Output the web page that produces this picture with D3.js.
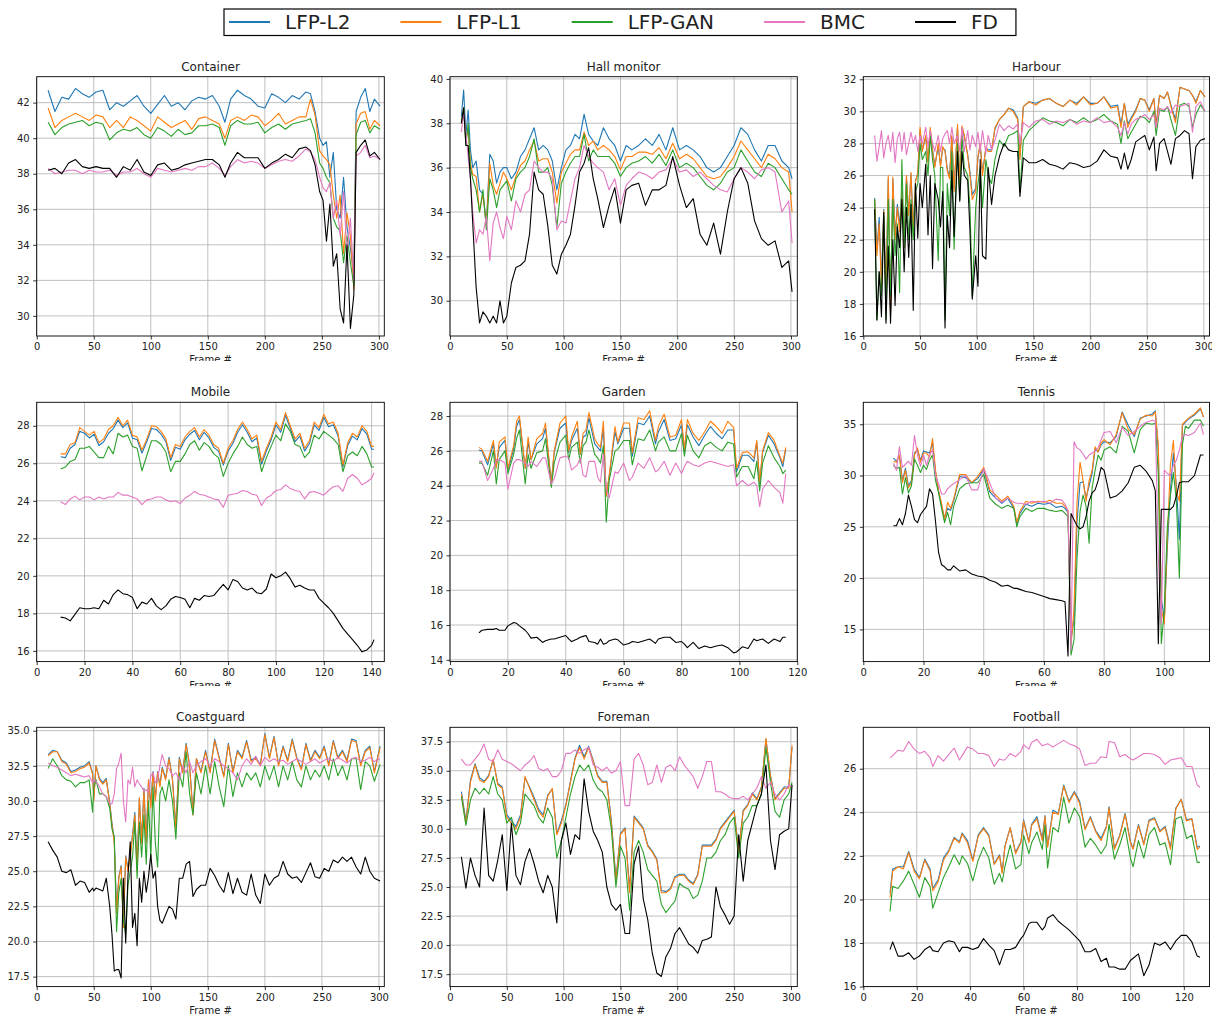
<!DOCTYPE html>
<html>
<head>
<meta charset="utf-8">
<script src="https://cdn.jsdelivr.net/npm/d3@7"></script>
<style>
  body { margin: 0; background: #fff; }
  svg { display: block; }
  text { font-family: "DejaVu Sans", sans-serif; fill: #222; }
</style>
</head>
<body>
<svg id="chart" width="1212" height="1017"></svg>
<script>
const seriesNames = ["LFP-L2", "LFP-L1", "LFP-GAN", "BMC", "FD"];
const seriesColors = ["#1f77b4", "#ff7f0e", "#2ca02c", "#e377c2", "#000000"];

// ---- Container ----
const containerFrames = [10,16,22,28,34,40,46,52,58,64,70,76,82,88,94,100,106,112,118,124,130,136,142,148,154,160,165,170,176,182,188,194,200,206,212,218,224,230,236,240,244,248,251,254,257,260,263,266,269,272,275,278,280,284,288,292,296,301];
const containerL2 = [42.7,41.5,42.3,42.2,42.8,42.5,42.3,42.6,42.7,41.6,42.0,41.8,42.1,42.4,41.8,41.4,41.9,42.4,41.8,42.0,41.6,42.1,42.3,42.2,42.4,41.8,40.9,42.2,42.7,42.4,42.2,41.8,41.7,42.5,42.3,42.0,42.4,42.2,42.6,42.5,41.5,40.0,39.6,39.8,37.8,39.2,36.0,35.5,37.8,35.0,33.8,32.3,41.5,42.3,42.8,41.5,42.2,41.8];
const containerL1 = [41.7,40.6,41.0,41.2,41.4,41.2,41.0,41.3,41.2,40.6,41.0,40.6,41.2,41.0,40.7,40.4,41.2,40.9,40.6,40.8,41.0,40.5,41.1,41.2,41.0,40.8,40.0,41.0,41.2,41.0,41.3,41.2,40.7,41.0,41.4,40.8,41.0,41.2,41.2,42.2,41.3,39.3,39.0,38.8,38.5,36.8,35.5,36.8,33.5,35.8,34.5,31.5,40.8,41.4,41.5,40.5,41.0,40.7];
const containerGAN = [40.9,40.2,40.6,40.8,40.9,41.0,40.7,40.9,40.8,39.9,40.3,40.5,40.4,40.6,40.2,40.0,40.6,40.4,40.1,40.5,40.2,40.3,40.7,40.7,40.8,40.6,39.6,40.7,41.0,40.8,40.8,40.9,40.3,40.6,40.8,40.5,40.8,40.9,41.0,41.1,40.3,38.6,38.3,37.8,37.5,35.5,35.0,34.8,33.0,34.5,33.0,31.7,40.2,40.9,41.0,40.3,40.7,40.5];
const containerBMC = [38.3,38.0,38.1,38.2,38.2,38.0,38.2,38.1,38.1,38.2,37.9,38.1,38.1,38.3,38.0,37.8,38.3,38.2,38.1,38.2,38.3,38.2,38.4,38.4,38.6,38.3,37.9,38.4,38.8,38.6,38.7,38.6,38.3,38.5,38.7,38.8,38.7,39.0,39.4,39.2,38.8,37.8,37.2,37.0,37.5,35.5,36.5,34.5,37.0,33.5,35.5,32.0,39.0,39.2,39.6,38.9,39.0,38.8];
const containerFD = [38.2,38.3,38.0,38.6,38.8,38.4,38.3,38.4,38.3,38.3,37.8,38.4,38.2,38.8,38.1,37.9,38.5,38.6,38.2,38.3,38.5,38.6,38.7,38.8,38.8,38.5,37.8,38.6,39.2,38.9,38.9,38.9,38.3,38.6,38.8,39.1,38.9,39.4,39.5,39.3,38.5,37.0,36.5,34.2,36.3,32.8,33.5,30.4,29.6,34.0,29.3,31.2,39.2,39.6,39.9,39.0,39.2,38.8];

// ---- Hall monitor ----
const hallFrames = [10,12,14,16,18,20,23,26,29,32,35,38,41,44,47,50,54,58,62,66,70,74,78,82,86,90,94,98,102,106,110,114,118,122,126,130,135,140,145,150,155,160,166,172,178,184,190,196,202,208,214,220,226,232,238,244,250,256,262,268,274,280,286,292,298,301];
const hallL2 = [38.3,39.5,37.5,38.6,36.8,36.0,36.3,35.0,34.8,33.5,36.6,36.3,35.3,35.8,36.0,36.0,35.5,35.8,36.5,36.8,37.3,37.8,36.8,37.0,36.8,36.3,35.0,36.0,36.8,37.0,37.5,37.3,38.4,37.5,37.2,37.0,37.8,37.3,37.0,36.3,37.0,36.8,37.0,37.3,37.0,37.5,36.8,37.8,36.8,37.0,36.8,36.5,36.0,35.8,36.0,36.5,37.0,37.8,37.5,36.8,36.3,37.0,37.0,36.3,36.0,35.5];
const hallL1 = [38.0,38.7,37.3,37.7,36.2,35.7,35.6,34.0,34.8,33.4,36.2,35.2,34.8,35.3,35.8,35.5,35.0,35.6,36.1,36.3,36.8,37.2,36.3,36.4,36.4,35.8,34.4,35.8,36.2,36.6,36.8,36.8,37.6,37.0,37.2,36.8,37.0,36.8,36.5,35.9,36.5,36.5,36.7,36.7,36.6,36.9,36.4,37.1,36.4,36.6,36.4,36.0,35.6,35.5,35.6,36.0,36.5,37.2,36.8,36.4,36.0,36.6,36.4,36.0,35.8,34.0];
const hallGAN = [38.0,38.7,37.0,38.0,36.0,35.5,35.0,34.0,35.0,33.2,35.5,35.0,34.2,35.0,35.2,35.4,34.5,35.5,35.8,36.0,36.5,37.3,35.8,35.8,36.0,35.2,33.3,35.3,35.8,36.2,36.5,36.5,37.5,36.3,36.8,36.5,36.5,36.5,36.2,35.6,36.0,36.2,36.3,36.5,36.2,36.6,36.1,36.8,36.0,36.2,36.0,35.6,35.2,35.0,35.3,35.8,36.0,36.8,36.3,35.8,35.6,36.2,36.0,35.5,35.0,34.8];
const hallBMC = [37.6,38.5,37.5,36.5,35.5,34.0,32.6,33.2,33.0,33.8,31.8,33.5,34.0,33.3,32.8,33.8,33.2,34.5,34.0,34.8,35.0,36.3,36.0,35.8,35.8,35.5,33.2,33.6,33.5,34.5,35.5,36.0,37.0,36.5,36.2,36.0,35.8,35.0,35.5,34.3,35.2,35.5,35.8,35.7,35.5,35.8,35.9,36.4,35.8,35.9,35.6,35.8,35.5,35.2,35.0,34.9,35.5,36.0,35.8,35.5,35.9,36.0,35.8,34.0,34.5,32.6];
const hallFD = [38.0,38.7,37.0,37.0,35.5,33.5,30.6,29.0,29.5,29.3,29.0,29.3,29.0,30.0,29.0,29.3,30.8,31.5,31.6,31.8,33.0,35.8,35.0,34.8,33.4,31.6,31.2,32.1,32.5,33.0,34.3,35.8,36.2,36.9,35.5,34.6,33.3,34.3,35.1,33.5,35.0,35.2,35.3,34.3,35.0,35.0,35.2,36.5,35.2,34.2,34.6,33.0,32.5,33.5,32.1,34.0,35.5,36.0,35.3,33.6,32.8,32.5,32.7,31.5,31.8,30.4];

// ---- Harbour ----
const harbourFrames = [10,12,14,16,18,20,22,24,26,28,30,32,34,36,38,40,42,44,46,48,50,52,55,57,59,61,63,66,68,70,72,74,76,78,80,83,85,87,89,92,94,96,99,101,103,105,108,110,113,116,120,124,128,132,136,138,141,146,152,158,164,170,176,182,188,194,200,206,212,218,224,227,230,233,236,240,244,248,252,256,258,261,265,268,271,275,279,283,287,290,293,297,301];
const harbourL2 = [24.6,21.3,23.4,19.4,23.9,18.8,25.8,17.5,25.8,22.3,24.2,22.9,25.1,21.8,25.9,23.6,26.1,22.8,25.7,26.1,28.8,27.6,28.4,26.9,28.8,27.6,26.6,27.8,26.7,27.7,27.6,26.4,25.9,28.4,25.2,29.0,25.7,29.0,28.4,27.3,26.2,24.8,25.2,27.1,27.9,26.2,27.7,27.6,27.6,28.9,29.5,29.8,30.2,30.1,29.6,27.2,30.3,30.6,30.5,30.7,30.8,30.5,30.3,30.7,30.5,30.9,30.5,30.5,30.9,30.3,30.4,29.2,30.5,29.2,29.6,30.1,30.8,30.7,30.1,30.8,29.2,31.0,30.8,31.2,30.4,29.5,31.5,31.4,31.3,31.0,30.6,31.3,30.9];
const harbourL1 = [24.5,21.0,23.0,19.0,23.8,18.5,26.0,17.2,25.9,22.0,24.0,22.5,25.0,21.5,26.0,23.5,26.2,22.5,25.6,26.2,29.0,27.5,28.5,26.8,29.0,27.5,26.5,28.0,26.5,27.8,27.5,26.3,25.8,28.5,25.0,29.2,25.5,29.1,28.5,27.2,26.0,24.5,25.0,27.2,28.0,26.0,27.8,27.5,27.5,29.0,29.5,29.8,30.2,30.0,29.5,27.0,30.3,30.6,30.4,30.7,30.8,30.5,30.3,30.7,30.4,30.9,30.4,30.5,30.9,30.2,30.3,29.0,30.5,29.0,29.5,30.0,30.8,30.7,30.0,30.8,29.0,31.0,30.8,31.2,30.3,29.3,31.5,31.4,31.3,31.0,30.5,31.3,30.9];
const harbourGAN = [24.5,17.0,20.0,18.5,23.5,17.0,24.5,18.5,24.5,21.0,23.0,18.7,27.0,21.5,25.5,22.0,24.5,22.0,25.0,25.5,28.0,27.0,27.5,26.0,28.5,27.0,26.0,20.7,26.5,26.5,17.0,25.5,23.5,27.5,21.4,28.0,24.5,28.5,26.5,26.0,24.0,18.5,24.0,25.5,26.5,24.0,27.0,26.0,25.5,27.0,28.2,27.8,28.5,28.6,28.8,25.0,28.2,28.8,29.2,29.6,29.4,29.3,29.1,29.5,29.3,29.6,29.3,29.5,29.8,29.4,29.2,28.0,29.4,28.3,28.7,29.2,29.7,29.6,29.3,30.0,28.5,30.1,30.0,30.3,29.5,28.5,30.4,30.5,30.3,29.0,29.8,30.4,30.0];
const harbourBMC = [28.5,26.9,27.8,28.8,27.1,28.0,28.5,27.5,28.7,26.8,28.3,28.7,27.5,28.7,27.3,28.0,28.7,28.0,28.5,27.5,28.5,28.0,29.0,27.8,28.8,28.0,27.5,28.5,27.5,28.3,28.6,28.8,28.0,29.0,28.0,28.5,27.5,29.0,27.5,28.8,27.6,28.5,27.8,28.7,27.5,28.8,27.4,28.5,27.6,28.2,29.2,28.8,29.1,28.9,29.2,28.0,29.3,29.0,29.4,29.5,29.2,29.4,29.3,29.5,29.2,29.4,29.3,29.6,29.3,29.4,29.0,28.5,29.3,28.6,29.2,29.5,29.6,29.8,29.5,29.8,29.0,30.2,30.1,30.3,29.9,30.4,30.3,30.4,30.5,28.7,30.3,30.6,30.0];
const harbourFD = [23.9,17.0,20.0,17.2,23.7,16.8,21.6,16.8,22.0,17.9,22.8,21.5,24.5,20.0,24.0,20.9,24.2,17.6,25.5,22.1,25.5,24.0,26.7,22.3,26.0,20.2,25.5,24.5,22.8,25.0,16.5,23.5,21.5,26.3,22.2,27.5,24.4,27.5,26.0,25.7,22.5,18.3,21.0,19.1,27.0,21.0,20.8,26.5,24.2,26.0,27.2,28.0,27.6,27.5,27.5,24.7,27.1,26.8,26.8,27.0,26.7,26.6,26.4,26.8,26.7,26.5,26.6,26.9,27.6,27.2,27.1,26.4,27.4,26.4,27.0,28.1,28.3,28.5,27.6,28.4,26.3,28.0,28.3,27.5,26.7,28.3,28.5,28.8,28.6,25.8,27.8,28.2,28.3];

// ---- Mobile ----
const mobileFrames = [10,12,14,16,18,20,22,24,26,28,30,32,34,36,38,40,42,44,46,48,50,52,54,56,58,60,62,64,66,68,70,72,74,76,78,80,82,84,86,88,90,92,94,96,98,100,102,104,106,108,110,112,114,116,118,120,122,124,126,128,130,132,134,136,138,140,141];
const mobileL2 = [26.35,26.3,26.8,27.0,27.7,27.6,27.35,27.55,26.95,27.15,27.6,27.85,28.3,27.9,28.15,27.35,27.25,26.55,27.15,27.85,27.8,27.55,27.15,26.15,26.85,26.75,27.25,27.55,27.75,27.25,27.65,27.35,26.85,26.65,25.9,26.65,27.05,27.65,28.05,27.65,27.15,27.35,25.95,26.65,27.25,28.05,27.65,28.55,27.85,27.15,27.45,26.65,27.05,28.05,27.75,28.45,27.95,28.05,27.45,25.8,26.95,27.45,27.25,27.85,27.55,26.75,26.75];
const mobileL1 = [26.5,26.5,27.0,27.1,27.9,27.7,27.5,27.7,27.1,27.3,27.8,28.0,28.45,28.0,28.3,27.5,27.4,26.7,27.3,28.0,27.95,27.7,27.3,26.3,27.0,26.9,27.4,27.7,27.9,27.4,27.8,27.5,27.0,26.8,26.0,26.8,27.2,27.8,28.2,27.8,27.3,27.5,26.1,26.8,27.4,28.2,27.8,28.7,28.0,27.3,27.6,26.8,27.2,28.2,27.9,28.6,28.1,28.2,27.6,25.9,27.1,27.6,27.4,28.0,27.7,26.9,26.9];
const mobileGAN = [25.7,25.8,26.1,26.2,26.8,26.8,26.9,26.6,26.3,26.3,26.9,26.5,27.6,27.4,27.5,26.9,26.8,25.6,26.4,27.2,27.2,27.0,26.6,25.55,26.1,26.1,26.5,27.0,27.2,26.7,27.1,26.9,26.5,26.3,25.3,26.0,26.5,26.9,27.4,27.0,26.8,26.9,25.55,26.3,26.9,27.5,27.2,28.1,27.7,27.0,26.9,26.3,26.6,27.5,27.3,27.7,27.5,27.3,27.0,25.55,26.4,26.6,26.4,26.9,26.5,25.8,25.8];
const mobileBMC = [23.95,23.8,24.1,24.25,24.05,24.2,24.2,24.05,24.2,24.1,24.2,24.2,24.45,24.3,24.3,24.2,24.1,23.8,24.05,24.1,24.2,24.2,24.05,23.95,24.0,23.85,24.15,24.3,24.5,24.35,24.3,24.2,24.1,24.05,23.65,24.3,24.35,24.4,24.55,24.5,24.35,24.3,23.75,24.15,24.3,24.55,24.6,24.85,24.65,24.55,24.5,24.1,24.45,24.5,24.4,24.3,24.55,24.75,24.8,24.5,25.2,25.4,25.2,24.85,25.0,25.2,25.5];
const mobileFD = [17.8,17.75,17.6,17.95,18.3,18.25,18.25,18.3,18.25,18.7,18.5,19.0,19.25,19.05,19.0,18.85,18.25,18.6,18.5,18.8,18.4,18.2,18.4,18.75,18.9,18.85,18.75,18.3,18.8,18.7,18.95,18.9,18.95,19.25,19.55,19.25,19.8,19.7,19.35,19.25,19.35,19.1,19.05,19.3,20.1,19.9,20.0,20.2,19.85,19.4,19.5,19.35,19.25,19.25,18.8,18.55,18.3,18.0,17.6,17.2,16.9,16.6,16.3,15.95,16.05,16.3,16.6];

// ---- Garden ----
const gardenFrames = [10,11,13,15,16,17,19,20,22,23,24,26,27,28,30,32,33,35,36,38,40,41,42,44,45,46,47,48,50,51,52,53,54,55,57,58,60,62,63,65,67,69,71,72,74,76,78,80,81,82,84,86,88,90,92,94,96,98,99,101,103,105,106,107,108,110,112,114,115,116];
const gardenL2 = [26.05,26.0,25.2,26.4,25.1,26.2,26.6,24.9,26.1,27.4,27.8,25.0,26.5,25.5,26.4,26.7,27.3,24.2,25.9,27.3,27.6,25.9,26.6,27.3,25.8,26.8,26.9,27.9,26.4,26.2,26.0,27.3,23.4,24.5,27.1,26.4,27.3,27.3,25.7,27.6,27.5,28.0,26.4,27.1,27.8,26.6,26.7,27.5,26.0,27.5,26.8,26.3,26.9,27.4,27.0,26.7,27.2,27.2,24.8,25.75,25.75,25.4,26.5,24.1,25.9,26.9,26.4,25.6,25.1,26.1];
const gardenL1 = [26.2,26.1,25.4,26.6,25.0,26.5,26.8,25.0,26.3,27.7,28.0,25.0,26.8,25.5,26.7,27.0,27.6,24.1,26.0,27.6,28.0,26.0,26.8,27.7,25.8,27.0,27.2,28.2,26.7,26.4,26.2,27.7,23.4,24.6,27.4,26.5,27.6,27.6,25.9,27.9,27.8,28.3,26.6,27.4,28.1,26.8,26.9,27.8,26.1,27.8,27.0,26.6,27.1,27.7,27.4,27.0,27.7,27.35,25.0,25.9,25.95,25.6,26.6,24.2,26.0,27.05,26.6,25.7,25.3,26.2];
const gardenGAN = [25.3,25.3,24.6,26.0,24.1,25.5,26.0,24.7,25.8,26.7,27.2,24.1,25.8,25.0,25.9,26.0,26.7,23.9,25.3,26.5,26.9,25.5,26.2,26.5,25.3,26.3,26.5,27.2,25.8,25.6,25.3,26.3,21.9,24.3,26.0,26.1,26.6,26.6,25.2,26.7,26.6,27.2,26.0,26.5,26.8,26.0,26.0,27.0,25.7,26.9,26.0,25.6,26.3,26.5,26.2,26.0,26.5,26.4,24.5,25.1,25.1,24.4,25.4,23.7,25.3,26.3,25.6,25.1,24.7,24.9];
const gardenBMC = [25.4,25.4,24.3,25.0,25.5,25.5,25.3,23.8,25.3,25.5,25.5,25.3,25.1,25.4,25.1,25.6,25.6,24.1,24.4,25.6,25.7,25.6,24.9,25.2,25.6,24.6,24.5,25.4,25.4,24.5,24.2,25.8,23.8,23.3,24.8,24.7,25.3,24.3,24.5,25.3,25.0,25.6,24.8,24.9,25.4,24.6,25.3,24.7,25.1,25.4,25.2,25.1,25.3,25.4,25.3,25.2,25.1,25.2,24.0,24.3,24.0,24.2,24.0,22.8,23.8,24.3,23.9,23.6,23.0,24.7];
const gardenFD = [15.55,15.7,15.75,15.75,15.8,15.7,15.7,15.95,16.15,16.1,15.95,15.7,15.5,15.25,15.3,15.0,15.1,15.2,15.2,15.3,15.4,15.2,15.05,15.2,15.3,15.35,15.4,15.05,15.0,14.9,15.2,14.9,14.95,15.1,15.2,15.15,14.85,14.95,15.05,15.0,15.1,15.2,14.95,15.2,15.3,15.3,15.0,15.05,14.9,14.7,15.0,14.65,14.8,14.7,14.8,14.85,14.7,14.4,14.45,14.75,14.65,15.2,15.1,15.15,15.2,14.95,15.2,15.05,15.3,15.3];

// ---- Tennis ----
const tennisFrames = [10,11,12,13,14,15,16,17,18,19,20,21,22,23,24,25,26,27,28,29,30,32,34,36,38,40,42,44,46,48,50,51,52,54,56,58,60,62,64,66,67,68,69,70,71,72,73,74,75,76,77,78,79,80,82,84,86,88,90,92,94,96,97,98,99,100,101,102,103,104,105,106,107,108,110,112,113];
const tennisL2 = [31.7,31.4,31.9,29.5,30.7,29.0,29.5,32.2,32.5,31.5,32.4,32.3,32.2,33.2,30.3,28.5,27.0,25.9,26.8,26.6,27.5,29.9,29.8,29.3,29.7,30.6,28.4,27.8,27.3,27.8,26.8,25.3,26.3,27.2,27.0,27.3,27.2,27.3,26.9,27.0,26.8,26.4,14.0,16.0,25.5,29.3,29.4,27.8,29.0,30.2,32.6,32.3,33.0,33.3,33.2,33.8,36.2,34.9,33.8,35.6,35.8,36.0,36.3,32.5,18.0,16.0,23.0,28.5,32.2,29.0,23.8,34.9,35.2,35.5,35.9,36.5,35.7];
const tennisL1 = [31.4,31.3,32.0,29.3,30.5,28.8,29.3,32.0,32.7,31.3,32.2,32.2,31.8,33.6,30.5,28.5,27.3,25.7,27.4,26.8,27.7,30.1,30.1,29.3,29.9,30.8,28.6,28.1,27.5,28.0,27.0,25.4,26.5,27.5,27.3,27.5,27.4,27.6,27.3,27.3,27.0,26.6,13.5,17.0,27.5,31.3,29.5,27.5,29.5,30.5,32.8,32.3,33.2,33.5,33.0,34.0,36.1,34.5,34.0,35.5,35.9,35.8,36.2,33.0,17.0,15.5,24.0,31.0,33.4,28.5,27.5,35.0,35.3,35.6,36.0,36.6,35.7];
const tennisGAN = [31.0,30.7,30.8,28.2,29.8,28.3,29.0,31.6,31.0,30.3,31.0,30.6,31.5,32.0,29.5,28.3,26.8,25.4,26.4,25.2,27.0,28.7,29.2,29.3,29.3,30.1,27.8,27.2,26.8,27.1,26.8,25.0,26.0,26.8,26.5,26.8,26.8,26.6,26.5,26.6,26.3,26.0,12.5,14.0,22.0,26.5,28.1,27.0,23.4,28.8,30.5,32.0,31.5,32.5,32.8,32.2,34.8,34.3,32.2,34.5,35.1,35.0,35.1,30.0,13.6,17.0,25.0,28.0,30.3,27.5,20.0,33.0,34.8,34.6,35.4,35.4,34.8];
const tennisBMC = [31.2,30.5,32.8,30.8,31.1,31.4,31.0,33.9,32.0,30.9,32.0,31.0,32.0,32.5,30.0,29.2,28.2,28.2,28.7,29.0,29.2,29.6,30.0,28.6,28.6,30.7,29.3,27.8,27.4,27.8,27.4,27.3,27.3,27.2,27.5,27.4,27.5,27.3,27.7,27.6,27.2,26.6,13.0,33.3,32.7,32.5,32.1,31.6,32.0,32.2,32.4,32.7,33.5,34.2,34.3,33.2,34.7,33.9,34.3,34.8,35.2,35.4,35.3,22.0,15.5,30.5,30.2,30.0,31.0,31.5,32.5,33.8,34.0,33.9,34.2,35.1,34.0];
const tennisFD = [25.1,25.1,25.8,25.2,26.3,28.1,27.0,25.7,25.4,26.2,26.6,27.0,28.7,28.2,25.5,22.5,21.3,21.1,20.8,20.8,21.2,20.7,20.8,20.4,20.2,20.1,19.8,19.6,19.2,19.3,19.0,19.0,18.9,18.7,18.6,18.4,18.2,18.0,17.9,17.8,17.7,12.4,26.3,25.7,25.1,24.8,25.0,26.0,27.5,28.3,28.6,29.5,30.8,30.5,27.8,28.0,28.5,29.3,30.8,31.0,30.4,29.5,28.5,13.6,26.7,26.7,26.7,26.7,27.0,28.0,29.3,29.4,29.4,29.4,30.0,32.0,32.0];

// ---- Coastguard ----
const coastFrames = [10,14,18,22,26,30,34,38,42,46,49,50,52,55,58,61,64,66,68,70,72,74,76,78,80,82,84,86,88,90,92,94,96,98,100,102,104,106,108,110,113,116,119,122,125,128,131,134,137,140,144,148,152,156,160,164,168,172,176,180,184,188,192,196,200,204,208,212,216,220,224,228,232,236,240,244,248,252,256,260,264,268,272,276,280,284,288,292,296,301];
const coastL2 = [33.3,33.6,33.5,32.9,32.7,32.1,32.2,32.4,32.5,32.8,32.0,30.2,32.5,31.6,31.3,31.6,29.9,28.4,27.2,22.3,24.6,25.4,21.3,26.1,25.2,26.2,27.6,29.2,25.2,30.2,27.2,30.9,27.2,31.5,29.7,32.1,30.2,32.1,31.1,32.4,31.6,33.1,31.6,28.2,33.1,32.1,34.1,32.6,29.2,33.0,32.1,33.6,32.1,34.4,33.1,31.8,34.1,32.1,33.6,33.1,34.3,32.9,33.1,32.6,34.8,33.1,34.6,32.6,33.9,32.9,34.4,33.1,32.3,34.1,32.9,33.6,33.1,33.9,32.6,34.3,33.1,33.6,32.9,34.4,34.3,32.6,33.6,33.9,32.1,33.9];
const coastL1 = [33.2,33.5,33.5,32.8,32.6,32.0,32.1,32.3,32.4,32.7,31.9,30.0,32.5,31.5,31.2,31.5,29.8,28.3,27.0,22.0,24.5,25.3,21.0,26.0,25.0,26.0,27.5,29.0,25.0,30.2,27.0,30.8,27.0,31.5,29.5,32.0,30.0,32.0,31.0,32.3,31.5,33.0,31.5,28.0,33.0,32.0,34.0,32.5,29.0,33.0,32.0,33.5,32.0,34.3,33.0,31.7,34.0,32.0,33.5,33.0,34.2,32.8,33.0,32.5,34.7,33.0,34.5,32.5,33.8,32.8,34.3,33.0,32.2,34.0,32.8,33.5,33.0,33.8,32.5,34.2,33.0,33.5,32.8,34.3,34.2,32.5,33.5,33.8,32.0,33.8];
const coastGAN = [32.3,33.0,32.5,31.8,31.5,31.4,31.0,31.3,31.3,31.5,29.2,31.0,31.5,30.5,30.5,30.3,29.5,28.0,27.5,20.7,23.5,24.5,21.5,20.5,24.0,25.0,26.0,28.5,24.5,28.5,26.0,29.0,25.5,30.0,26.0,31.0,27.0,25.3,30.5,31.0,30.0,31.5,30.0,27.3,32.0,31.0,33.5,30.5,29.0,32.0,30.5,32.5,30.5,32.8,31.0,29.6,32.5,30.3,32.0,31.0,32.0,31.5,32.0,31.0,32.5,31.5,32.5,31.0,32.5,31.5,32.8,31.5,31.0,32.5,31.5,32.2,31.7,32.5,31.5,33.0,31.8,32.5,31.5,33.0,33.0,30.8,32.8,32.5,31.4,32.6];
const coastBMC = [32.7,32.5,32.4,32.2,32.0,31.8,31.9,31.8,31.7,31.8,31.3,31.5,31.4,31.0,30.5,30.3,29.8,29.8,30.5,32.3,32.7,33.4,30.0,28.5,31.5,31.2,32.4,31.0,31.5,31.2,31.0,30.7,30.8,30.6,31.8,32.0,31.3,31.5,32.5,33.3,32.5,32.3,31.8,32.0,31.5,32.5,32.0,32.8,32.0,32.5,32.8,33.0,32.5,33.0,32.8,32.5,32.3,32.0,31.5,32.5,33.0,32.6,33.2,32.5,33.1,32.8,33.0,32.8,32.9,32.6,32.8,33.0,32.8,32.6,32.8,33.0,32.7,32.9,33.0,32.8,33.1,32.9,32.7,33.0,33.1,32.8,32.9,33.1,32.8,33.0];
const coastFD = [27.1,26.5,26.0,25.0,24.9,25.1,24.0,24.3,24.2,23.5,23.8,23.6,23.8,23.7,23.6,24.5,22.5,20.5,17.9,18.0,18.0,17.4,24.5,19.9,24.7,27.1,21.0,22.0,19.7,24.5,22.8,25.0,23.5,24.6,26.2,24.5,25.0,22.5,21.5,21.3,21.9,22.5,22.3,21.6,24.5,24.5,25.5,25.7,23.2,23.7,24.0,24.0,25.2,24.7,24.0,23.5,24.9,23.4,24.5,23.5,23.3,24.8,23.3,22.7,24.8,24.0,24.5,24.7,25.7,24.8,24.5,24.6,24.2,24.9,25.6,24.6,24.5,25.2,25.0,25.8,25.6,26.0,25.7,26.0,25.3,24.8,26.0,25.0,24.5,24.3];

// ---- Foreman ----
const foremanFrames = [10,14,18,22,26,30,34,38,42,46,50,54,58,62,66,70,74,78,82,86,90,94,98,102,106,110,114,118,122,126,130,134,138,142,146,150,154,158,162,166,170,174,178,182,186,190,194,198,202,206,210,214,218,222,226,230,234,238,242,246,250,254,258,262,266,270,274,278,282,286,290,294,298,301];
const foremanL2 = [33.2,30.7,34.2,35.6,34.4,34.1,34.6,35.9,33.9,33.6,31.2,30.7,30.2,31.2,34.4,33.6,32.7,31.7,31.2,32.9,33.4,29.6,30.7,32.1,34.1,36.1,37.2,36.2,37.1,35.9,34.6,34.1,34.1,30.7,25.7,29.6,30.1,24.8,31.1,30.6,30.1,28.6,28.1,27.4,24.7,24.6,24.9,25.9,26.1,26.1,25.6,25.3,26.1,28.6,28.6,28.6,29.1,30.1,30.6,31.1,31.6,28.2,31.6,32.1,33.1,32.6,33.6,37.7,34.6,32.6,33.1,33.6,33.6,37.0];
const foremanL1 = [33.0,30.5,34.0,35.5,34.2,34.0,34.5,36.0,33.8,33.5,31.0,30.5,30.0,31.0,34.5,33.5,32.5,31.5,31.0,32.8,33.5,29.5,30.5,32.0,34.0,36.0,37.0,36.0,37.0,35.8,34.5,34.0,34.0,30.5,25.5,29.5,30.0,24.5,31.0,30.5,30.0,28.5,28.0,27.3,24.5,24.5,24.8,25.8,26.0,26.0,25.5,25.2,26.0,28.5,28.5,28.5,29.0,30.0,30.5,31.0,31.5,28.0,31.5,32.0,33.0,32.5,33.5,37.8,34.5,32.5,33.0,33.5,33.5,37.2];
const foremanGAN = [32.8,30.3,32.5,33.5,33.0,33.5,33.0,34.5,33.0,32.5,30.5,31.0,29.5,30.5,33.0,32.5,32.0,31.0,30.5,31.8,31.0,27.5,29.0,31.0,33.0,34.5,35.5,35.0,35.5,34.2,33.5,33.2,32.5,30.0,25.0,28.5,27.5,23.0,28.0,29.0,28.0,26.5,26.0,25.5,23.5,22.8,23.3,23.8,25.3,25.0,24.8,24.0,24.3,25.5,27.5,27.5,28.0,29.0,29.5,30.5,31.0,27.5,30.5,31.0,32.0,32.0,33.0,37.0,34.0,31.5,31.0,32.5,33.0,34.0];
const foremanBMC = [36.0,35.5,35.5,36.0,36.5,37.3,36.0,35.8,36.8,36.0,35.8,35.6,35.3,35.0,35.5,35.8,36.3,35.2,35.0,35.2,34.5,34.5,35.0,36.5,36.5,36.8,36.5,36.8,37.0,35.5,35.3,35.0,35.3,34.8,35.0,35.8,32.0,32.0,36.0,36.5,35.5,33.8,34.0,35.5,34.0,35.3,35.5,35.0,36.2,35.5,35.0,34.5,33.5,34.5,35.8,35.8,33.2,33.2,33.0,32.7,32.6,32.6,32.8,32.5,33.0,33.5,34.5,33.5,34.0,33.0,32.5,33.0,33.8,33.5];
const foremanFD = [27.6,24.9,27.5,26.0,25.0,31.8,26.0,25.5,27.3,29.5,24.7,30.5,26.0,25.2,27.2,28.3,27.0,25.5,24.5,26.0,25.0,21.9,29.0,30.5,27.8,29.5,29.1,34.3,31.5,29.8,29.0,28.0,25.0,23.5,23.0,23.5,21.0,21.0,27.0,28.5,24.0,22.2,19.3,17.6,17.3,19.0,19.7,21.0,21.5,20.8,20.1,19.8,19.3,20.4,20.5,20.7,25.0,23.3,22.6,21.8,22.5,29.5,25.5,29.0,30.5,32.0,33.0,35.5,29.0,26.5,29.5,29.8,30.0,33.8];

// ---- Football ----
const footballFrames = [10,11,13,15,17,19,21,23,25,26,28,30,32,34,36,37,39,41,43,45,47,49,51,52,53,55,57,59,60,62,63,65,67,68,69,71,73,75,77,79,81,83,85,87,89,91,92,94,96,98,100,101,103,105,107,109,111,113,115,117,119,121,123,125,126];
const footballL2 = [20.3,21.4,21.5,21.5,22.2,21.4,21.0,21.85,21.4,20.5,20.9,21.9,22.25,22.85,22.65,23.05,22.7,21.8,22.95,23.3,22.95,21.65,22.05,21.25,22.45,23.3,22.15,22.65,23.65,22.65,23.45,23.8,22.8,23.85,22.45,24.1,23.95,25.25,24.5,24.95,24.5,23.25,23.8,23.15,22.8,23.35,24.25,22.35,22.95,23.95,22.65,22.35,23.45,22.55,23.65,23.75,23.15,23.35,22.4,24.2,24.6,23.65,23.7,22.4,22.45];
const footballL1 = [20.1,21.3,21.5,21.4,22.15,21.3,20.95,21.8,21.3,20.4,20.8,21.8,22.2,22.8,22.6,23.0,22.6,21.75,22.9,23.25,22.9,21.6,22.0,21.2,22.4,23.3,22.1,22.6,23.6,22.6,23.4,23.7,22.7,23.8,22.4,24.0,23.9,25.2,24.45,24.9,24.4,23.2,23.75,23.1,22.7,23.3,24.2,22.3,22.9,23.9,22.6,22.3,23.4,22.5,23.6,23.7,23.1,23.3,22.3,24.15,24.6,23.6,23.7,22.3,22.4];
const footballGAN = [19.45,20.6,20.5,20.85,21.3,20.7,20.1,21.0,20.6,19.6,20.3,21.0,21.5,22.05,21.6,22.0,21.65,20.85,21.8,22.4,21.9,20.7,21.2,20.8,21.5,22.5,21.4,21.6,22.95,22.1,22.6,23.1,22.3,23.4,21.45,23.3,23.1,24.7,23.5,24.2,23.8,22.4,22.8,22.5,22.1,22.5,23.45,21.85,22.5,23.3,21.9,21.5,22.7,21.9,23.0,23.3,22.5,22.6,21.6,23.7,23.8,22.8,22.95,21.7,21.7];
const footballBMC = [26.5,26.6,26.85,26.8,27.25,26.9,26.7,26.8,26.5,26.1,26.6,26.35,26.65,26.95,26.4,26.6,27.0,26.9,26.7,26.7,26.6,26.1,26.45,26.4,26.4,26.7,26.55,26.8,27.1,26.9,27.2,27.35,27.05,27.1,27.15,27.0,27.15,27.3,27.15,27.05,26.9,26.15,26.25,26.25,26.55,26.5,27.25,27.2,26.55,26.65,26.45,26.4,26.55,26.7,26.7,26.65,26.5,26.2,26.4,26.45,26.5,26.1,26.1,25.25,25.15];
const footballFD = [17.7,18.05,17.4,17.4,17.55,17.25,17.4,17.7,17.85,17.65,17.6,18.0,18.1,18.05,17.6,17.8,17.8,17.7,17.8,18.2,17.9,17.65,17.0,17.35,17.7,17.7,17.8,18.2,18.35,18.9,18.95,18.95,18.6,18.75,19.15,19.3,19.0,18.8,18.6,18.35,18.1,17.6,17.6,17.75,17.15,17.3,16.9,16.9,16.8,16.8,17.2,17.3,17.5,16.5,17.0,18.0,17.9,18.05,17.7,18.1,18.35,18.35,18.05,17.4,17.35];

// ---- ticks ----
const xTicks300 = [0, 50, 100, 150, 200, 250, 300];
const xTicksMobile = [0, 20, 40, 60, 80, 100, 120, 140];
const xTicks120 = [0, 20, 40, 60, 80, 100, 120];
const xTicksTennis = [0, 20, 40, 60, 80, 100];
const containerYTicks = [30, 32, 34, 36, 38, 40, 42];
const hallYTicks = [30, 32, 34, 36, 38, 40];
const harbourYTicks = [16, 18, 20, 22, 24, 26, 28, 30, 32];
const mobileYTicks = [16, 18, 20, 22, 24, 26, 28];
const gardenYTicks = [14, 16, 18, 20, 22, 24, 26, 28];
const tennisYTicks = [15, 20, 25, 30, 35];
const coastYTicks = [17.5, 20, 22.5, 25, 27.5, 30, 32.5, 35];
const foremanYTicks = [17.5, 20, 22.5, 25, 27.5, 30, 32.5, 35, 37.5];
const footballYTicks = [16, 18, 20, 22, 24, 26];

const plots = [
  { title: "Container", frames: containerFrames, series: [containerL2, containerL1, containerGAN, containerBMC, containerFD], xlim: [0, 304.7], ylim: [28.87, 43.46], xt: xTicks300, yt: containerYTicks, fmt: "d" },
  { title: "Hall monitor", frames: hallFrames, series: [hallL2, hallL1, hallGAN, hallBMC, hallFD], xlim: [0, 305.6], ylim: [28.41, 40.1], xt: xTicks300, yt: hallYTicks, fmt: "d" },
  { title: "Harbour", frames: harbourFrames, series: [harbourL2, harbourL1, harbourGAN, harbourBMC, harbourFD], xlim: [0, 305], ylim: [16, 32.16], xt: xTicks300, yt: harbourYTicks, fmt: "d" },
  { title: "Mobile", frames: mobileFrames, series: [mobileL2, mobileL1, mobileGAN, mobileBMC, mobileFD], xlim: [0, 145.3], ylim: [15.43, 29.25], xt: xTicksMobile, yt: mobileYTicks, fmt: "d" },
  { title: "Garden", frames: gardenFrames, series: [gardenL2, gardenL1, gardenGAN, gardenBMC, gardenFD], xlim: [0, 120], ylim: [13.9, 28.79], xt: xTicks120, yt: gardenYTicks, fmt: "d" },
  { title: "Tennis", frames: tennisFrames, series: [tennisL2, tennisL1, tennisGAN, tennisBMC, tennisFD], xlim: [0, 115], ylim: [11.86, 37.14], xt: xTicksTennis, yt: tennisYTicks, fmt: "d" },
  { title: "Coastguard", frames: coastFrames, series: [coastL2, coastL1, coastGAN, coastBMC, coastFD], xlim: [0, 304.7], ylim: [16.79, 35.24], xt: xTicks300, yt: coastYTicks, fmt: ".1f" },
  { title: "Foreman", frames: foremanFrames, series: [foremanL2, foremanL1, foremanGAN, foremanBMC, foremanFD], xlim: [0, 305.6], ylim: [16.43, 38.74], xt: xTicks300, yt: foremanYTicks, fmt: ".1f" },
  { title: "Football", frames: footballFrames, series: [footballL2, footballL1, footballGAN, footballBMC, footballFD], xlim: [0, 129.6], ylim: [16, 27.9], xt: xTicks120, yt: footballYTicks, fmt: "d" }
];

const svg = d3.select("#chart");
const colX = [36.7, 450, 863.3];
const colW = [347.6, 347.3, 346.2];
const rowY = [76.7, 402.3, 727.3];
const H = 259.3;
const labelCut = [361, 686, 1017]; // the x label of rows 1 and 2 is cut off in the original

const defs = svg.append("defs");

plots.forEach((p, i) => {
  const col = i % 3, row = Math.floor(i / 3);
  const W = colW[col];
  const g = svg.append("g").attr("transform", `translate(${colX[col]},${rowY[row]})`);

  const x = d3.scaleLinear().domain(p.xlim).range([0, W]);
  const y = d3.scaleLinear().domain(p.ylim).range([H, 0]);

  // grid
  g.append("g").selectAll("line").data(p.xt).join("line")
    .attr("x1", d => x(d)).attr("x2", d => x(d))
    .attr("y1", 0).attr("y2", H)
    .attr("stroke", "#b0b0b0").attr("stroke-width", 0.8);
  g.append("g").selectAll("line").data(p.yt).join("line")
    .attr("x1", 0).attr("x2", W)
    .attr("y1", d => y(d)).attr("y2", d => y(d))
    .attr("stroke", "#b0b0b0").attr("stroke-width", 0.8);

  // lines
  defs.append("clipPath").attr("id", "clip" + i)
    .append("rect").attr("width", W).attr("height", H);
  const line = d3.line().x((d, k) => x(p.frames[k])).y(d => y(d));
  g.append("g").attr("clip-path", `url(#clip${i})`)
    .selectAll("path").data(p.series).join("path")
    .attr("d", line)
    .attr("fill", "none")
    .attr("stroke", (d, k) => seriesColors[k])
    .attr("stroke-width", 1.1)
    .attr("stroke-linejoin", "round");

  // spines
  g.append("rect").attr("width", W).attr("height", H)
    .attr("fill", "none").attr("stroke", "#000").attr("stroke-width", 0.9);

  // axes
  const xa = g.append("g").attr("transform", `translate(0,${H})`)
    .call(d3.axisBottom(x).tickValues(p.xt).tickSize(3.5).tickPadding(3.5).tickFormat(d3.format("d")));
  const ya = g.append("g")
    .call(d3.axisLeft(y).tickValues(p.yt).tickSize(3.5).tickPadding(3.5).tickFormat(d3.format(p.fmt)));
  [xa, ya].forEach(a => {
    a.select(".domain").remove();
    a.selectAll("line").attr("stroke", "#000").attr("stroke-width", 0.8);
    a.selectAll("text").attr("font-size", 10).attr("font-family", "DejaVu Sans").attr("fill", "#222");
  });

  // title
  g.append("text").attr("x", W / 2).attr("y", -6)
    .attr("text-anchor", "middle").attr("font-size", 12).text(p.title);

  // x label, clipped as in the original
  defs.append("clipPath").attr("id", "lclip" + i)
    .append("rect").attr("x", -50).attr("y", H).attr("width", W + 100)
    .attr("height", labelCut[row] - rowY[row] - H);
  g.append("text").attr("x", W / 2).attr("y", H + 27.3)
    .attr("clip-path", `url(#lclip${i})`)
    .attr("text-anchor", "middle").attr("font-size", 10).text("Frame #");
});

// legend
const leg = svg.append("g");
let lx = 229;
seriesNames.forEach((name, k) => {
  leg.append("line").attr("x1", lx).attr("x2", lx + 41).attr("y1", 22).attr("y2", 22)
    .attr("stroke", seriesColors[k]).attr("stroke-width", 2);
  const t = leg.append("text").attr("x", lx + 56).attr("y", 29.3)
    .attr("font-size", 20).text(name);
  const w = t.node().getComputedTextLength();
  lx = lx + 56 + w + (k < seriesNames.length - 1 ? 50 : 0);
});
leg.insert("rect", ":first-child")
  .attr("x", 224).attr("y", 9).attr("width", lx + 18 - 224).attr("height", 26.5)
  .attr("fill", "#fff").attr("stroke", "#000").attr("stroke-width", 1.2);
</script>
</body>
</html>
